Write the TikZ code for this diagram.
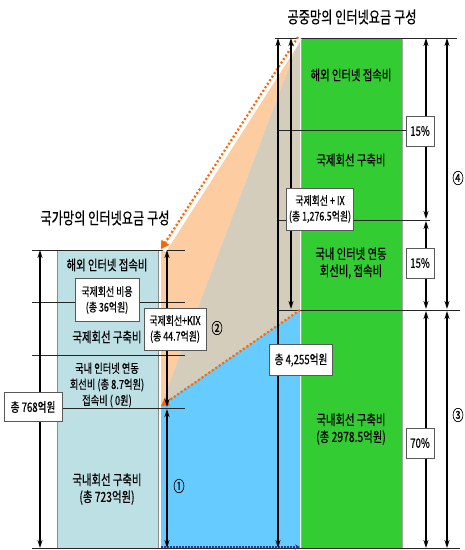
\documentclass[tikz,border=0pt]{standalone}
\usepackage{fontspec}
\newfontfamily\kr{Noto Sans CJK KR}[FakeStretch=0.74,FakeBold=0.5]
\usetikzlibrary{arrows.meta,calc}
\definecolor{lblue}{RGB}{189,224,228}
\definecolor{cgreen}{RGB}{51,204,51}
\definecolor{cblue}{RGB}{102,204,255}
\definecolor{corange}{RGB}{253,204,160}
\definecolor{ctan}{RGB}{212,205,187}
\definecolor{dotor}{RGB}{255,102,0}
\definecolor{dotbl}{RGB}{51,51,153}
\begin{document}
\begin{tikzpicture}[x=1pt,y=-1pt,
 txt/.style={font=\kr\fontsize{14}{17}\selectfont, align=center, inner sep=0pt},
 ttl/.style={font=\kr\fontsize{16.5}{18}\selectfont, inner sep=0pt},
 lbox/.style={draw=black!65, line width=0.6pt, fill=white, align=center, font=\kr\fontsize{12}{15.5}\selectfont, inner sep=1pt},
 pbox/.style={lbox, minimum width=28pt, minimum height=30pt, font=\kr\fontsize{13}{14}\selectfont},
 circ/.style={font=\kr\fontsize{15}{15}\selectfont, inner sep=0pt},
 hl/.style={line width=0.7pt, black!85},
 dimline/.style={line width=1.4pt, black},
 both/.style={{Stealth[length=8pt,width=5pt]}-{Stealth[length=8pt,width=5pt]}},
 dotarrow/.style={dotor, line width=2.2pt, dash pattern=on 2pt off 2.2pt, -{Triangle[length=8pt,width=9pt]}},
]
\useasboundingbox (0,0) rectangle (465,550);
\fill[white] (0,0) rectangle (465,550);

% ---- colour regions ----
\fill[lblue, draw=black!45, line width=0.5pt] (57,250) rectangle (158,548);
\fill[corange] (161,250) -- (300,38) -- (161,405) -- cycle;
\fill[ctan] (300,38) -- (300,310) -- (161,405) -- cycle;
\fill[cblue] (161,405) -- (300,310) -- (300,548) -- (161,548) -- cycle;
\fill[cgreen, draw=black!35, line width=0.5pt] (301,38) rectangle (402,548);

% ---- horizontal rules ----
\draw[hl] (32,250) -- (185,250);
\draw[hl] (32,302) -- (185,302);
\draw[hl] (32,355) -- (185,355);
\draw[hl] (32,408) -- (185,408);
\draw[hl] (32,548.5) -- (460,548.5);
\draw[hl] (275,38) -- (457,38);
\draw[hl] (277,130) -- (406,130);
\draw[hl] (277,220) -- (430,220);
\draw[hl] (277,310) -- (460,310);

% ---- named coordinates ----
\coordinate (o1s) at (298,37);
\coordinate (o1e) at (161,249);
\coordinate (o2s) at (300,310);
\coordinate (o2e) at (161,406);
\coordinate (b1s) at (161,547);
\coordinate (b1e) at (300,547);
\coordinate (a1t) at (40,250);   \coordinate (a1b) at (40,548);
\coordinate (a2t) at (167,250);  \coordinate (a2b) at (167,407);
\coordinate (a3t) at (167,409);  \coordinate (a3b) at (167,548);
\coordinate (a4t) at (278,38);   \coordinate (a4b) at (278,548);
\coordinate (a5t) at (291,38);   \coordinate (a5b) at (291,309);
\coordinate (a6t) at (426,38);   \coordinate (a6b) at (426,219);
\coordinate (a7t) at (426,221);  \coordinate (a7b) at (426,309);
\coordinate (a8t) at (426,311);  \coordinate (a8b) at (426,548);
\coordinate (a9t) at (447,38);   \coordinate (a9b) at (447,309);
\coordinate (a10t) at (447,311); \coordinate (a10b) at (447,548);

% ---- dotted arrows ----
\draw[white, line width=4pt] ($(o1s)+(2,1)$) -- ($(o1e)+(3,2)$);
\draw[dotarrow] (o1s) -- (o1e);
\draw[dotarrow] (o2s) -- (o2e);
\draw[dotbl, line width=1.6pt, dash pattern=on 1.5pt off 1.5pt, -{Stealth[length=5pt,width=5pt]}] (b1s) -- (b1e);

% ---- dimension arrows ----
\draw[dimline, both] (a1t) -- (a1b);
\draw[dimline, both] (a2t) -- (a2b);
\draw[dimline, both] (a3t) -- (a3b);
\draw[dimline, both] (a4t) -- (a4b);
\draw[dimline, both] (a5t) -- (a5b);
\draw[dimline, both] (a6t) -- (a6b);
\draw[dimline, both] (a7t) -- (a7b);
\draw[dimline, both] (a8t) -- (a8b);
\draw[dimline, both] (a9t) -- (a9b);
\draw[dimline, both] (a10t) -- (a10b);

% ---- titles ----
\node[ttl] (tl) at (105,218) {국가망의 인터넷요금 구성};
\node[ttl] (tr) at (352,17) {공중망의 인터넷요금 구성};

% ---- left texts ----
\node[txt] (l1) at (107,265) {해외 인터넷 접속비};
\node[txt] (l2) at (107,337) {국제회선 구축비};
\node[txt, font=\kr\fontsize{12.5}{16}\selectfont] (l3) at (107,385) {국내 인터넷 연동\\회선비 (총 8.7억원)\\접속비 ( 0원)};
\node[txt] (l4) at (107,489) {국내회선 구축비\\(총 723억원)};
\node[lbox, minimum width=64pt, minimum height=43pt] (bx1) at (107,300) {국제회선 비용\\(총 36억원)};
\node[lbox, minimum width=62pt, minimum height=42pt] (bx2) at (175,329) {국제회선+KIX\\(총 44.7억원)};
\node[lbox, minimum width=58pt, minimum height=29pt, font=\kr\fontsize{13}{14}\selectfont] (bx3) at (33,407) {총 768억원};
\node[circ] (c2) at (217,328) {②};
\node[circ] (c1) at (179,486) {①};

% ---- right texts ----
\node[txt] (r1) at (351,75) {해외 인터넷 접속비};
\node[txt] (r2) at (351,160) {국제회선 구축비};
\node[txt] (r3) at (351,263) {국내 인터넷 연동\\회선비, 접속비};
\node[txt] (r4) at (351,429) {국내회선 구축비\\(총 2978.5억원)};
\node[lbox, minimum width=67pt, minimum height=42pt] (bx4) at (320,209) {국제회선 + IX\\(총 1,276.5억원)};
\node[lbox, minimum width=63pt, minimum height=31pt, font=\kr\fontsize{13}{14}\selectfont] (bx5) at (301,360) {총 4,255억원};
\node[pbox] (p1) at (420,131) {15\%};
\node[pbox] (p2) at (420,263) {15\%};
\node[pbox] (p3) at (420,443) {70\%};
\node[circ] (c4) at (458,178) {④};
\node[circ] (c3) at (458,415) {③};
\end{tikzpicture}
\end{document}
